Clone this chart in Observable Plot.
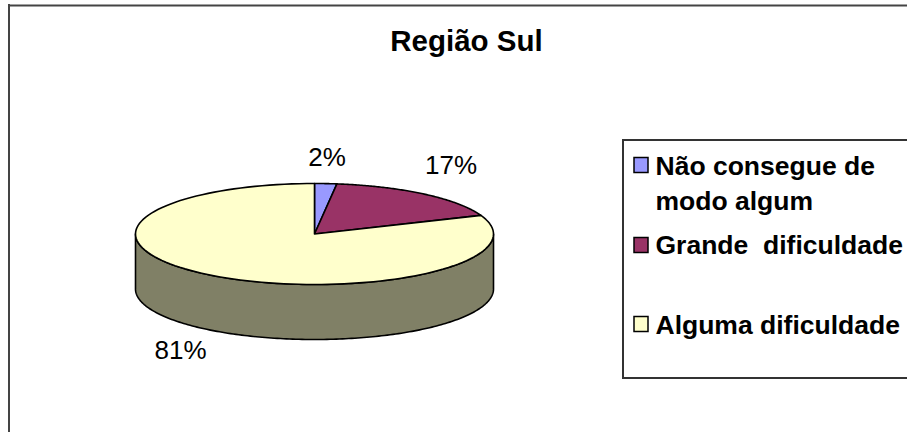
<!DOCTYPE html>
<html lang="pt">
<head>
<meta charset="utf-8">
<script src="https://cdn.jsdelivr.net/npm/d3@7"></script>
<script src="https://cdn.jsdelivr.net/npm/@observablehq/plot@0.6"></script>
<style>
html,body{margin:0;padding:0;background:#fff;overflow:hidden}
svg{display:block}
</style>
</head>
<body>
<div id="chart"></div>
<script>
const title = "Região Sul";
const categories = ["Não consegue de\nmodo algum", "Grande  dificuldade", "Alguma dificuldade"];
const values = [2, 17, 81];
const percentLabels = ["2%", "17%", "81%"];
const colors = ["#9999ff", "#993366", "#ffffcc"];
const sideColor = "#808066";

const W = 907, H = 432;
const cx = 314, cy = 233.5, rx = 179, ry = 50.5, depth = 55;
const FONT = "'Liberation Sans', Arial, sans-serif";

const pt = (a, dy = 0) => ({x: cx + rx * Math.sin(a), y: cy - ry * Math.cos(a) + dy});
const arcs = d3.pie().sort(null)(values);
const steps = a => d3.range(0, 121).map(i => a.startAngle + (a.endAngle - a.startAngle) * i / 120);

const slices = arcs.map((a, i) => ({
  i,
  points: [{x: cx, y: cy}, ...steps(a).map(t => pt(t)), {x: cx, y: cy}]
}));
const sideAngles = d3.range(0, 181).map(i => Math.PI / 2 + Math.PI * i / 180);
const side = [...sideAngles.map(t => pt(t)), ...sideAngles.slice().reverse().map(t => pt(t, depth)), pt(Math.PI / 2)];

const legendRows = [
  {y: 165, textY: 181},
  {y: 245, textY: 242.5},
  {y: 324, textY: 322.5}
];
const legend = categories.map((c, i) => ({label: c, ...legendRows[i], color: colors[i]}));

const labelPos = [{x: 326.5, y: 157}, {x: 450.5, y: 165}, {x: 180, y: 350.5}];

const chart = Plot.plot({
  width: W, height: H,
  margin: 0,
  x: {domain: [0, W], range: [0, W], axis: null},
  y: {domain: [0, H], range: [0, H], axis: null},
  style: {background: "#fff", fontFamily: FONT},
  marks: [
    Plot.ruleX([8.5], {y1: 4, y2: H, stroke: "#444", strokeWidth: 2}),
    Plot.ruleY([5], {x1: 8, x2: W, stroke: "#444", strokeWidth: 2}),
    Plot.text([title], {x: 466, y: 41, text: d => d, fontSize: 29.5, fontWeight: "bold", fill: "#000", fontFamily: FONT}),
    Plot.line(side, {x: "x", y: "y", fill: sideColor, stroke: "#000", strokeWidth: 1.6}),
    ...slices.map(s => Plot.line(s.points, {x: "x", y: "y", fill: colors[s.i], stroke: "#000", strokeWidth: 1.6})),
    Plot.text(percentLabels, {x: (d, i) => labelPos[i].x, y: (d, i) => labelPos[i].y, text: d => d, fontSize: 26, fill: "#000", fontFamily: FONT}),
    Plot.rect([0], {x1: 623, x2: W + 3, y1: 140, y2: 378, fill: "#fff", stroke: "#333", strokeWidth: 2}),
    Plot.rect(legend, {x1: 634, x2: 648, y1: d => d.y - 7.5, y2: d => d.y + 7.5, fill: "color", stroke: "#000", strokeWidth: 1.5}),
    Plot.text(legend, {x: 655, y: "textY", text: "label", textAnchor: "start", fontSize: 26.5, fontWeight: "bold", fill: "#000", lineHeight: 1.29, lineAnchor: "middle", fontFamily: FONT})
  ]
});
document.getElementById("chart").append(chart);
</script>
</body>
</html>
